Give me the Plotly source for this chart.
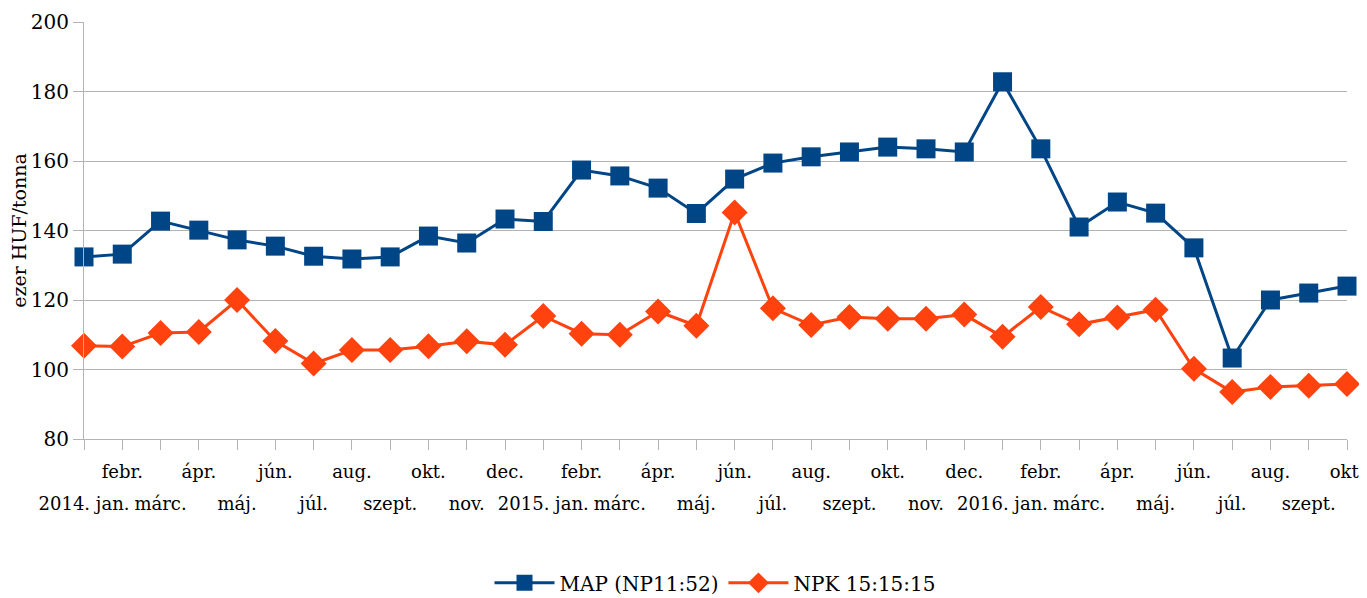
import plotly.graph_objects as go

months = ["2014. jan.", "febr.", "márc.", "ápr.", "máj.", "jún.", "júl.", "aug.", "szept.", "okt.", "nov.", "dec.",
          "2015. jan.", "febr.", "márc.", "ápr.", "máj.", "jún.", "júl.", "aug.", "szept.", "okt.", "nov.", "dec.",
          "2016. jan.", "febr.", "márc.", "ápr.", "máj.", "jún.", "júl.", "aug.", "szept.", "okt."]

map_values = [132.4, 133.2, 142.7, 140.1, 137.3, 135.5, 132.6, 131.8, 132.4, 138.4, 136.4, 143.3,
              142.6, 157.4, 155.7, 152.2, 144.9, 154.8, 159.4, 161.2, 162.6, 164.0, 163.5, 162.6,
              182.8, 163.5, 141.0, 148.2, 145.0, 135.0, 103.3, 120.0, 122.0, 124.0]

npk_values = [106.8, 106.6, 110.5, 110.8, 120.0, 108.2, 101.7, 105.6, 105.6, 106.7, 108.1, 107.1,
              115.4, 110.3, 110.0, 116.7, 112.6, 145.2, 117.6, 112.8, 115.1, 114.6, 114.6, 115.8,
              109.4, 118.0, 113.0, 115.0, 117.2, 100.2, 93.5, 95.0, 95.3, 95.8]

y_ticks = [80, 100, 120, 140, 160, 180, 200]

x = list(range(len(months)))
upper_vals = [i for i in x if i % 2 == 1]
upper_text = [months[i] for i in upper_vals]
lower_vals = [i for i in x if i % 2 == 0]
lower_text = [months[i] for i in lower_vals]

FONT = "DejaVu Serif"

fig = go.Figure()
fig.add_trace(go.Scatter(
    x=x, y=map_values, name="MAP (NP11:52)", mode="lines+markers",
    line=dict(color="#004586", width=3),
    marker=dict(symbol="square", size=19, color="#004586"),
    cliponaxis=False,
))
fig.add_trace(go.Scatter(
    x=x, y=npk_values, name="NPK 15:15:15", mode="lines+markers",
    line=dict(color="#ff420e", width=3),
    marker=dict(symbol="diamond", size=20, color="#ff420e"),
    cliponaxis=False,
))
# empty helper trace so the second (lower-row label) axis is drawn
fig.add_trace(go.Scatter(
    x=x, y=[None] * len(x), xaxis="x2", yaxis="y", mode="lines",
    showlegend=False, hoverinfo="skip",
))

axis_common = dict(
    range=[0, 33], tickmode="array", tickangle=0, showgrid=False, zeroline=False,
    automargin=False, ticklabeloverflow="allow",
    showline=True, linecolor="#b3b3b3", linewidth=1,
    ticks="outside", ticklen=10, tickcolor="#b3b3b3",
    tickfont=dict(family=FONT, size=18, color="black"),
)

fig.update_layout(
    width=1359, height=590,
    margin=dict(l=76, r=20, t=14, b=159, autoexpand=False),
    paper_bgcolor="white", plot_bgcolor="white",
    font=dict(family=FONT, size=19, color="black"),
    showlegend=True,
    legend=dict(orientation="h", x=0.5, xanchor="center", y=-0.345, yanchor="middle",
                font=dict(family=FONT, size=20), itemwidth=60, tracegroupgap=0),
    xaxis=dict(tickvals=upper_vals, ticktext=upper_text, ticklabelstandoff=6, **axis_common),
    xaxis2=dict(tickvals=lower_vals, ticktext=lower_text, ticklabelstandoff=38,
                overlaying="x", anchor="y", side="bottom", matches="x", **axis_common),
    yaxis=dict(
        range=[80, 200], tickmode="array", tickvals=y_ticks,
        showgrid=True, gridcolor="#b3b3b3", gridwidth=1, zeroline=False, automargin=False,
        showline=True, linecolor="#b3b3b3", linewidth=1,
        ticks="outside", ticklen=10, tickcolor="#b3b3b3",
        tickfont=dict(family=FONT, size=20),
        title=dict(text="ezer HUF/tonna", font=dict(family=FONT, size=19), standoff=3),
    ),
)

fig.write_html("out.html")
